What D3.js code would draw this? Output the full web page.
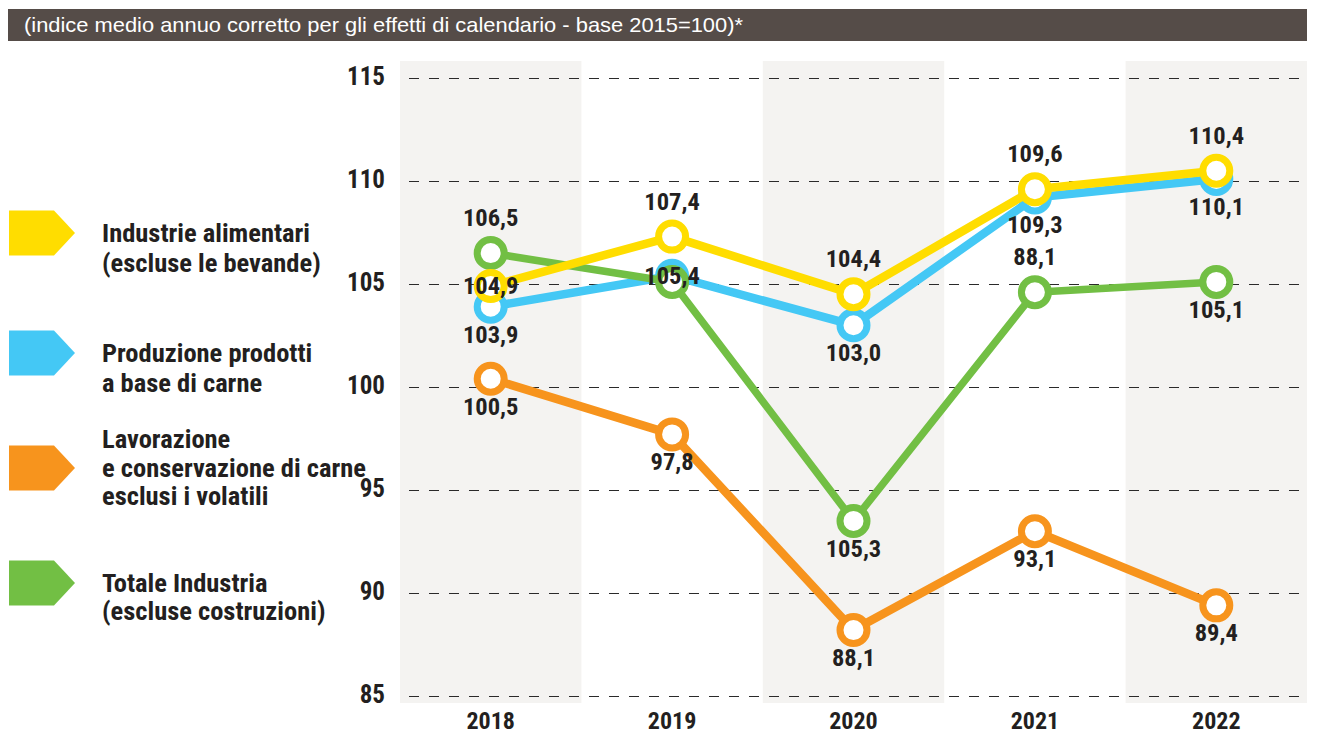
<!DOCTYPE html>
<html><head><meta charset="utf-8">
<script src="https://cdn.jsdelivr.net/npm/d3@7"></script>
<style>
body{margin:0;background:#fff;}
svg{display:block;}
</style></head>
<body><svg id="c" width="1317" height="735"></svg>
<script>
const title = "(indice medio annuo corretto per gli effetti di calendario - base 2015=100)*";
const years = ["2018","2019","2020","2021","2022"];
const yTicks = [85,90,95,100,105,110,115];
const alimentari = [104.9,107.3,104.5,109.6,110.5];
const carne = [103.9,105.4,103.0,109.2,110.1];
const lavorazione = [100.4,97.7,88.2,93.0,89.4];
const totale = [106.5,105.1,93.5,104.6,105.1];
const alimentariLabels = ["104,9","107,4","104,4","109,6","110,4"];
const carneLabels = ["103,9","105,4","103,0","109,3","110,1"];
const lavorazioneLabels = ["100,5","97,8","88,1","93,1","89,4"];
const totaleLabels = ["106,5","","105,3","88,1","105,1"];
const seriesNames = [
  ["Industrie alimentari","(escluse le bevande)"],
  ["Produzione prodotti","a base di carne"],
  ["Lavorazione","e conservazione di carne","esclusi i volatili"],
  ["Totale Industria","(escluse costruzioni)"]
];

const FONT = "'Liberation Sans Narrow','Arial Narrow','Roboto Condensed','Liberation Sans',sans-serif";
const svg = d3.select("#c");
const colors = {ali:"#FFDD00", car:"#44C8F5", lav:"#F7941D", tot:"#72BF44"};
const ink = "#231f20";

// header
svg.append("rect").attr("x",8).attr("y",9).attr("width",1299).attr("height",32).attr("fill","#554C48");
svg.append("text").attr("x",24).attr("y",32).attr("fill","#fff")
  .attr("textLength",719).attr("lengthAdjust","spacingAndGlyphs")
  .style("font-family","'Liberation Sans',Arial,sans-serif").style("font-size","21px").text(title);

const x = d3.scaleBand().domain(years).range([400,1307]).padding(0);
const y = d3.scaleLinear().domain([85,115]).range([696,78]);

// bands
svg.append("g").selectAll("rect").data(years.filter((d,i)=>i%2===0)).join("rect")
  .attr("x",d=>x(d)).attr("width",x.bandwidth()).attr("y",61).attr("height",642).attr("fill","#F4F3F1");

// grid
svg.append("g").selectAll("line").data(yTicks).join("line")
  .attr("x1",409).attr("x2",1309).attr("y1",d=>Math.round(y(d))+0.5).attr("y2",d=>Math.round(y(d))+0.5)
  .attr("stroke","#2a2a2a").attr("stroke-width",1.2).attr("stroke-dasharray","10 10");

// y labels
svg.append("g").selectAll("text").data(yTicks).join("text")
  .attr("x",385).attr("y",d=>y(d)+7).attr("text-anchor","end")
  .style("font-family",FONT).style("font-weight","bold").style("font-size","25px").attr("fill",ink)
  .text(d=>d);

// x labels
svg.append("g").selectAll("text").data(years).join("text")
  .attr("x",d=>x(d)+x.bandwidth()/2).attr("y",729).attr("text-anchor","middle")
  .style("font-family",FONT).style("font-weight","bold").style("font-size","24px").attr("fill",ink)
  .text(d=>d);

const cx = d=>x(d)+x.bandwidth()/2;
const line = d3.line().x((d,i)=>cx(years[i])).y(d=>y(d));

const series = [
  {vals:lavorazione, labels:lavorazioneLabels, color:colors.lav, w:8.5, place:["below","below","below","below","below"]},
  {vals:carne, labels:carneLabels, color:colors.car, w:8.5, place:["below","center","below","below","below"]},
  {vals:totale, labels:totaleLabels, color:colors.tot, w:7.5, place:["above","above","below","above","below"]},
  {vals:alimentari, labels:alimentariLabels, color:colors.ali, w:8.5, place:["center","above","above","above","above"]}
];
const offs = {above:-27, below:36, center:8};

series.forEach(s=>{
  svg.append("path").attr("d",line(s.vals)).attr("fill","none").attr("stroke",s.color)
    .attr("stroke-width",s.w).attr("stroke-linejoin","round");
  svg.append("g").selectAll("circle").data(s.vals).join("circle")
    .attr("cx",(d,i)=>cx(years[i])).attr("cy",d=>y(d)).attr("r",13.5)
    .attr("fill","#fff").attr("stroke",s.color).attr("stroke-width",7);
});
series.forEach(s=>{
  svg.append("g").selectAll("text").data(s.vals).join("text")
    .attr("x",(d,i)=>cx(years[i])).attr("y",(d,i)=>y(d)+offs[s.place[i]])
    .attr("text-anchor","middle")
    .style("font-family",FONT).style("font-weight","bold").style("font-size","24.5px").attr("fill",ink)
    .text((d,i)=>s.labels[i]);
});

// legend
const legColors = [colors.ali, colors.car, colors.lav, colors.tot];
const legCenters = [233,353,468,583];
const legBaselines = [[242,272],[362,392],[448,477,505],[592,620]];
legColors.forEach((c,i)=>{
  const cy = legCenters[i];
  svg.append("path").attr("d",`M9,${cy-22.5}H54L75,${cy}L54,${cy+22.5}H9Z`).attr("fill",c);
  seriesNames[i].forEach((t,j)=>{
    svg.append("text").attr("x",102).attr("y",legBaselines[i][j])
      .style("font-family",FONT).style("font-weight","bold").style("font-size","26.5px").attr("fill",ink)
      .text(t);
  });
});
</script></body></html>
